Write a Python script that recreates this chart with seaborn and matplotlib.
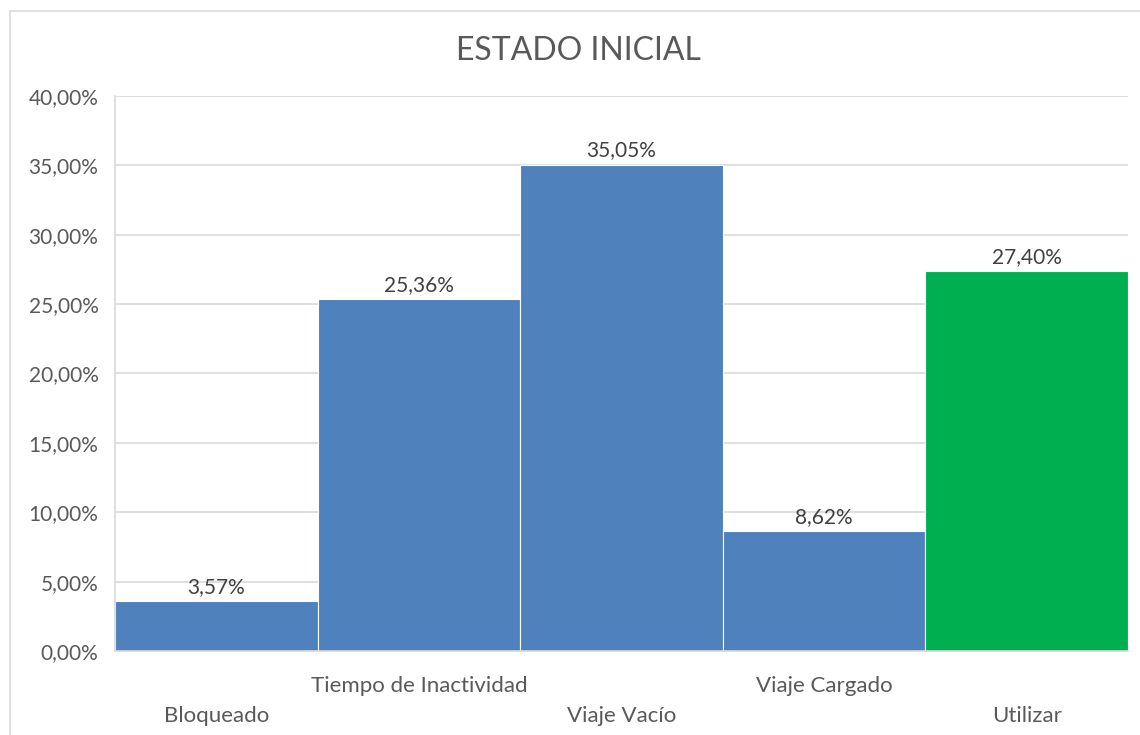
import matplotlib
matplotlib.use('Agg')
import matplotlib.pyplot as plt
import seaborn as sns
from matplotlib.ticker import FuncFormatter, MultipleLocator
from matplotlib.patches import Rectangle

# Data
categories = ['Bloqueado', 'Tiempo de Inactividad', 'Viaje Vacío', 'Viaje Cargado', 'Utilizar']
values = [3.57, 25.36, 35.05, 8.62, 27.40]
bar_colors = ['#4F81BD', '#4F81BD', '#4F81BD', '#4F81BD', '#00B050']
title = 'ESTADO INICIAL'

sns.set_theme(style='white')
plt.rcParams['font.family'] = ['Lato', 'DejaVu Sans']

text_color = '#595959'
grid_color = '#D9D9D9'

fig = plt.figure(figsize=(11.4, 7.35), dpi=100)
ax = fig.add_axes([0.101, 0.1143, 0.8885, 0.7551])

sns.barplot(x=categories, y=values, hue=categories, palette=bar_colors,
            legend=False, width=1.0, edgecolor='white', linewidth=0.8,
            saturation=1, ax=ax)

ax.set_ylim(0, 40)
ax.set_xlim(-0.5, 4.5)
ax.yaxis.set_major_locator(MultipleLocator(5))
ax.yaxis.set_major_formatter(FuncFormatter(lambda v, p: f'{v:.2f}%'.replace('.', ',')))
ax.grid(axis='y', color=grid_color, linewidth=1.2)
ax.set_axisbelow(True)
ax.tick_params(axis='y', labelsize=15, colors=text_color, length=0, pad=12)

for s in ['top', 'right']:
    ax.spines[s].set_visible(False)
for s in ['left', 'bottom']:
    ax.spines[s].set_color(grid_color)
    ax.spines[s].set_linewidth(1.2)

# staggered x labels, like Excel does it
ax.set_xticks(range(len(categories)))
ax.set_xticklabels([])
ax.tick_params(axis='x', length=0)
for i, cat in enumerate(categories):
    off = -25 if i % 2 == 1 else -47
    ax.annotate(cat, xy=(i, 0), xytext=(0, off), textcoords='offset points',
                ha='center', va='center', fontsize=16, color=text_color,
                annotation_clip=False)
ax.set_xlabel('')
ax.set_ylabel('')

# data labels
for i, v in enumerate(values):
    ax.annotate(f'{v:.2f}%'.replace('.', ','), xy=(i, v), xytext=(0, 3),
                textcoords='offset points', ha='center', va='bottom',
                fontsize=15, color='#404040')

fig.text(0.507, 0.930, title, ha='center', va='center', fontsize=23, color=text_color)

# chart area border
fig.patches.append(Rectangle((10 / 1140, -0.05), 1.2, 0.985 + 0.05,
                             transform=fig.transFigure, fill=False,
                             edgecolor=grid_color, linewidth=1.2))

fig.savefig('out.png', dpi=100, facecolor='white')
